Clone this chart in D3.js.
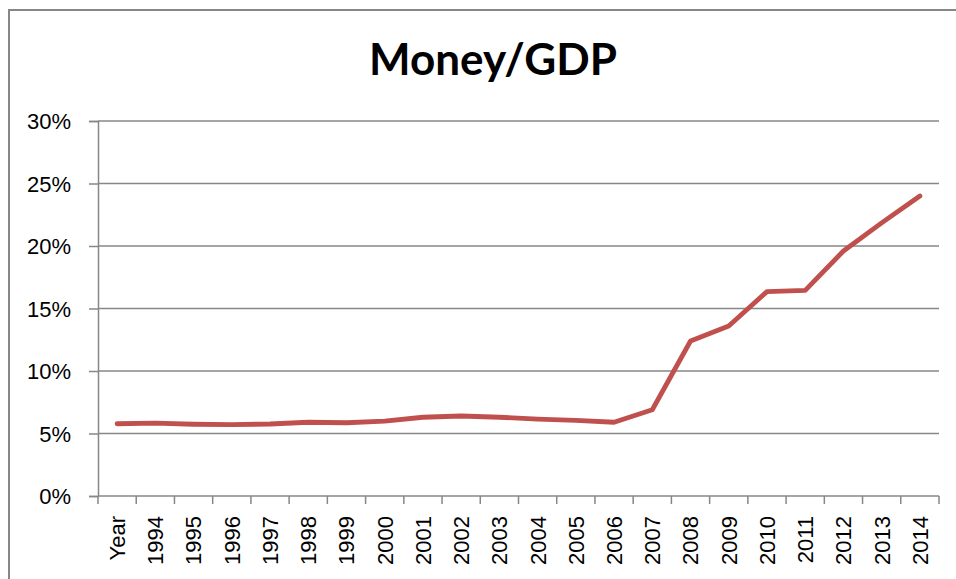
<!DOCTYPE html>
<html>
<head>
<meta charset="utf-8">
<script src="https://cdn.jsdelivr.net/npm/d3@7"></script>
<style>
  html, body { margin: 0; padding: 0; background: #fff; }
  svg { display: block; }
</style>
</head>
<body>
<svg id="chart" width="956" height="579"></svg>
<script>
const categories = ["Year","1994","1995","1996","1997","1998","1999","2000","2001","2002","2003","2004","2005","2006","2007","2008","2009","2010","2011","2012","2013","2014"];
const values = [5.78, 5.83, 5.74, 5.71, 5.76, 5.9, 5.86, 5.99, 6.3, 6.4, 6.3, 6.15, 6.05, 5.9, 6.9, 12.4, 13.6, 16.35, 16.45, 19.6, 21.85, 24.0];
const yTicks = [0, 5, 10, 15, 20, 25, 30];
const title = "Money/GDP";

const svg = d3.select("#chart");
const plotLeft = 98, plotRight = 939, plotTop = 121, plotBottom = 496;

// outer border
svg.append("rect").attr("x", 9).attr("y", 10).attr("width", 960).attr("height", 600)
  .attr("fill", "none").attr("stroke", "#878787").attr("stroke-width", 2);

svg.append("text").attr("x", 493).attr("y", 75).attr("text-anchor", "middle")
  .attr("font-family", "Lato, 'Open Sans', sans-serif").attr("font-weight", "bold")
  .attr("font-size", 43).attr("textLength", 248).attr("lengthAdjust", "spacingAndGlyphs")
  .attr("fill", "#000").text(title);

const x = d3.scaleBand().domain(categories).range([plotLeft, plotRight]);
const y = d3.scaleLinear().domain([0, 30]).range([plotBottom, plotTop]);

// gridlines
svg.append("g").selectAll("line").data(yTicks.filter(d => d > 0)).join("line")
  .attr("x1", plotLeft).attr("x2", plotRight)
  .attr("y1", d => y(d)).attr("y2", d => y(d))
  .attr("stroke", "#878787").attr("stroke-width", 1.5);

// y axis
const yAxis = svg.append("g").attr("transform", `translate(${plotLeft},0)`)
  .call(d3.axisLeft(y).tickValues(yTicks).tickFormat(d => d + "%").tickSize(9).tickPadding(18));
yAxis.select(".domain").attr("stroke", "#878787").attr("stroke-width", 1.5);
yAxis.selectAll(".tick line").attr("stroke", "#878787").attr("stroke-width", 1.5);
yAxis.selectAll("text").attr("font-family", "'Liberation Sans', Arial, sans-serif")
  .attr("font-size", 22).attr("fill", "#000").attr("dy", "0.36em");

// x axis
const xAxis = svg.append("g").attr("transform", `translate(0,${plotBottom})`)
  .call(d3.axisBottom(x).tickSize(0).tickPadding(0));
xAxis.select(".domain").remove();
svg.append("line").attr("x1", plotLeft).attr("x2", plotRight).attr("y1", plotBottom).attr("y2", plotBottom)
  .attr("stroke", "#878787").attr("stroke-width", 1.5);
const bounds = categories.map(c => x(c)).concat([x(categories[categories.length-1]) + x.bandwidth()]);
svg.append("g").selectAll("line").data(bounds).join("line")
  .attr("x1", d => d).attr("x2", d => d).attr("y1", plotBottom).attr("y2", plotBottom + 8)
  .attr("stroke", "#878787").attr("stroke-width", 1.5);
xAxis.selectAll("text")
  .attr("font-family", "'Liberation Sans', Arial, sans-serif").attr("font-size", 22).attr("fill", "#000")
  .attr("text-anchor", "end").attr("dy", "0.36em")
  .attr("transform", "translate(0,20) rotate(-90)");

// line
const line = d3.line().x((d, i) => x(categories[i]) + x.bandwidth() / 2).y(d => y(d));
svg.append("path").datum(values).attr("d", line)
  .attr("fill", "none").attr("stroke", "#C0504D").attr("stroke-width", 4.8)
  .attr("stroke-linejoin", "round").attr("stroke-linecap", "round");
</script>
</body>
</html>
